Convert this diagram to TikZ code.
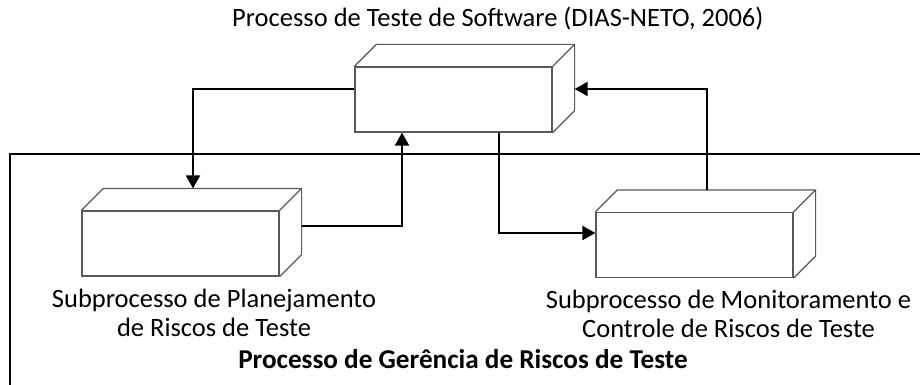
\documentclass[tikz,border=0pt]{standalone}
\usepackage{fontspec}
\setmainfont{Carlito}
\usetikzlibrary{arrows.meta,positioning}

\begin{document}
\begin{tikzpicture}[x=1pt,y=-1pt,
    every node/.style={inner sep=0pt},
    box/.style={draw=black!65,line width=1.2pt,minimum width=197pt,minimum height=65pt},
    face/.style={draw=black!65,line width=1.2pt,line join=round},
    conn/.style={line width=2pt,-{Triangle[length=13pt,width=14pt]}},
    lbl/.style={font=\fontsize{26.5}{29}\selectfont,align=center}]
        \useasboundingbox (0,0) rectangle (920,385);
        \draw[line width=2.2pt] (10,385) |- (920,154);

        \node[box] (t) at (453.5,99.5) {};
        \node[box] (p) at (180.5,243.5) {};
        \node[box] (m) at (694.5,245) {};
        \foreach \bx in {t,p,m}
            \draw[face] (\bx.north west) -- ++(22pt,22pt) -- ([shift={(22pt,22pt)}]\bx.north east)
                -- ([shift={(22pt,22pt)}]\bx.south east) -- (\bx.south east)
                (\bx.north east) -- ++(22pt,22pt);

        \node[lbl,anchor=west] (tl) at (232,19) {Processo de Teste de Software (DIAS-NETO, 2006)};
        \node[lbl,below=12pt of p,xshift=33.5pt] (pl) {Subprocesso de Planejamento\\de Riscos de Teste};
        \node[lbl,below=12pt of m,xshift=34pt] (ml) {Subprocesso de Monitoramento e\\Controle de Riscos de Teste};
        \node[lbl,font=\fontsize{27.2}{29}\selectfont\bfseries] (gl) at (463,359) {Processo de Gerência de Riscos de Teste};

        \draw[conn] ([yshift=10pt]t.west) -| ([shift={(12.5pt,22pt)}]p.north);
        \draw[conn] ([shift={(22pt,17.5pt)}]p.east) -| ([xshift=-51.5pt]t.south);
        \draw[conn] ([xshift=45.5pt]t.south) |- ([yshift=12pt]m.west);
        \draw[conn] ([shift={(12.5pt,22pt)}]m.north) |- ([shift={(22pt,10.5pt)}]t.east);
\end{tikzpicture}
\end{document}
